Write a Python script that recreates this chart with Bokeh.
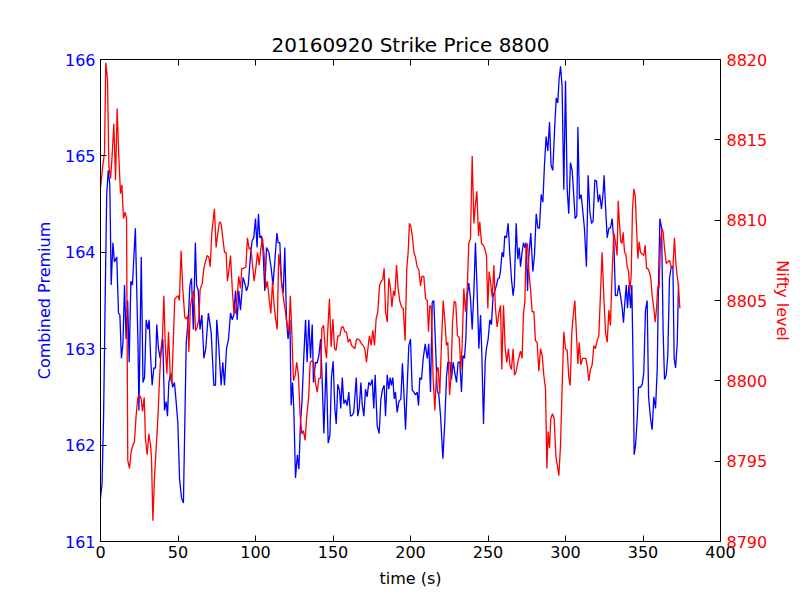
from bokeh.plotting import figure
from bokeh.models import Range1d, LinearAxis, FixedTicker
from bokeh.embed import file_html
from bokeh.resources import INLINE

title_text = "20160920 Strike Price 8800"
x_label = "time (s)"
left_label = "Combined Premium"
right_label = "Nifty level"

x_ticks = [0, 50, 100, 150, 200, 250, 300, 350, 400]
left_ticks = [161, 162, 163, 164, 165, 166]
right_ticks = [8790, 8795, 8800, 8805, 8810, 8815, 8820]

# Combined premium (left axis)
blue_t = [0, 1, 2, 3, 4, 5, 6, 6.9, 8, 9, 10.5, 11.6, 12.5, 13.5, 14.5, 15.5, 16.5, 17.5, 18.5, 19.6,
          20.6, 22.5, 24.2, 24.8, 26.3, 27.4, 28.4, 29.5, 30.6, 31.4, 32.3, 33.3, 34.4, 35.5, 36.3, 37.4,
          38.5, 40.2, 41.3, 42.4, 43.2, 44.1, 45.4, 46.5, 47.7, 48.8, 49.9, 51, 52.3, 53.5, 54.4, 55.3,
          56.6, 57.7, 58.7, 59.9, 61.2, 62, 63.1, 64.2, 65.4, 66.7, 67.9, 69.6, 71.4, 73.1, 74.2, 75,
          76.3, 77.8, 78.9, 80, 81.3, 82.6, 83.9, 85, 86, 87.1, 88.2, 89.2, 90.3, 92, 93.1, 94.2, 95.3,
          96.8, 97.8, 98.9, 100, 101, 101.9, 102.8, 103.9, 104.9, 106, 107.1, 108.6, 110, 111.3, 112.9,
          113.8, 114.6, 115.7, 116.8, 117.9, 118.9, 120, 121, 122.2, 123, 123.9, 124.7, 125.8, 127, 128,
          129, 130, 131.2, 132.3, 133.3, 134.4, 135.5, 136.6, 137.4, 138.7, 139.8, 140.9, 142, 143, 144.1,
          145.6, 146.9, 148, 149, 150.1, 151.2, 152.1, 153.1, 154.2, 155, 156, 157, 158.1, 159.1, 160.2,
          161.3, 162.4, 163.4, 165, 166, 166.9, 168, 168.8, 169.9, 171, 172, 173.1, 174.2, 175.3, 176.3,
          177.2, 178.5, 179.8, 180.9, 182, 183, 183.9, 185, 186, 186.9, 187.7, 188.6, 189.5, 190.3, 191.4,
          192.5, 193.8, 194.8, 195.7, 196.8, 197.8, 198.9, 200, 201.1, 202.2, 203.2, 204.3, 205.2, 206,
          207.1, 208.2, 209.5, 210.8, 211.8, 212.9, 214, 215, 216.1, 217.2, 218.3, 219.4, 220.9, 222.1,
          223.2, 224.1, 225.4, 226.4, 227.5, 228.6, 229.7, 230.7, 231.8, 232.9, 233.8, 234.8, 235.7, 236.6,
          237.6, 238.7, 239.8, 240.9, 241.9, 243, 244.1, 245.2, 246, 247.1, 248.2, 249, 250.1, 251.2, 252.2,
          253.3, 254.4, 255.5, 256.3, 257.2, 258, 259.1, 260, 260.8, 261.9, 263, 264, 265.1, 266.2, 267,
          268.2, 269.2, 270.1, 271, 272, 272.9, 273.8, 274.6, 275.5, 276.3, 277.6, 278.9, 280, 281.1, 282.2,
          283.2, 284.3, 285.4, 286.4, 287.5, 288.6, 289.7, 290.7, 291.8, 292.9, 294, 295, 295.9, 296.8,
          297.8, 298.9, 300, 301.1, 302.1, 303.2, 304.3, 305.1, 306.2, 307.3, 308, 309, 310.1, 311.2, 312.2,
          313.5, 314.6, 315.7, 316.8, 317.8, 318.9, 320, 321.1, 322.1, 323.2, 324.3, 324.9, 325.8, 326.9,
          328, 329, 330.1, 331.2, 332.2, 333.3, 334.4, 335.5, 336.6, 337.4, 338.3, 339.2, 340, 340.9, 342,
          342.8, 343.7, 344.3, 345.2, 346.3, 347.1, 348.4, 349.5, 350.5, 351.6, 352.7, 353.6, 354.9, 355.9,
          357, 358.1, 359.2, 360, 360.9, 362, 363, 363.9, 365, 366, 367.1, 368.2, 369.3, 370.1, 371, 372.1,
          372.9]
blue_v = [161.45, 161.6, 162.3, 163.5, 164.6, 164.85, 164.7, 163.66, 164.1, 163.9, 163.95, 163.37, 163.35,
          162.9, 163.06, 163.66, 163.1, 163.5, 162.86, 163.7, 163.66, 164.25, 163.03, 162.36, 163.95, 162.65,
          162.7, 163.3, 163.2, 163.3, 162.93, 162.62, 162.8, 162.8, 163.25, 163.0, 162.9, 163.1, 162.36,
          162.45, 162.3, 162.65, 162.75, 162.6, 162.65, 162.45, 162.23, 161.65, 161.45, 161.4, 162.23, 163.06,
          163.3, 163.66, 163.73, 163.2, 164.1, 163.66, 163.6, 163.2, 163.35, 162.9, 163.0, 163.37, 163.17,
          162.62, 162.62, 163.3, 163.03, 162.62, 162.86, 162.62, 163.0, 163.1, 163.37, 163.3, 163.35, 163.6,
          163.3, 163.6, 163.4, 163.74, 163.68, 163.6, 163.66, 163.97, 164.12, 164.15, 164.35, 164.05, 164.4,
          164.15, 164.17, 164.0, 163.6, 164.05, 164.0, 163.85, 163.66, 164.0, 164.2, 164.1, 164.1, 163.68,
          163.58, 164.05, 163.3, 163.1, 163.3, 162.41, 162.65, 162.38, 161.66, 161.9, 161.75, 162.23, 162.45,
          162.93, 163.3, 162.86, 163.3, 162.9, 163.25, 162.65, 162.86, 162.85, 162.93, 163.1, 162.68, 162.12,
          162.86, 162.02, 162.1, 162.7, 162.87, 162.38, 162.22, 162.63, 162.57, 162.38, 162.7, 162.43, 162.47,
          162.41, 162.55, 162.3, 162.31, 162.34, 162.7, 162.3, 162.38, 162.65, 162.43, 162.3, 162.58, 162.5,
          162.65, 162.62, 162.68, 162.38, 162.73, 162.2, 162.12, 162.48, 162.58, 162.62, 162.3, 162.73,
          162.58, 162.7, 162.62, 162.7, 162.48, 162.55, 162.34, 162.45, 162.48, 162.85, 162.55, 162.16,
          162.58, 163.03, 163.1, 162.57, 162.55, 162.52, 162.55, 162.41, 162.7, 162.68, 162.9, 163.05, 162.9,
          163.05, 162.55, 163.48, 163.5, 163.06, 162.57, 162.52, 162.3, 161.86, 162.23, 162.7, 162.86, 162.86,
          162.68, 162.86, 162.75, 162.65, 162.86, 162.86, 162.55, 162.93, 162.9, 163.1, 163.55, 163.68,
          163.52, 163.2, 163.6, 164.1, 163.6, 163.0, 163.35, 162.96, 162.22, 162.87, 163.0, 163.1, 163.3,
          163.25, 163.55, 163.6, 163.66, 163.72, 163.73, 163.8, 164.0, 163.95, 164.17, 164.15, 164.3, 164.0,
          163.73, 163.55, 163.66, 164.3, 163.93, 164.05, 163.85, 164.0, 164.1, 164.05, 164.1, 163.6, 163.95,
          164.2, 163.8, 163.97, 164.4, 164.25, 164.25, 164.6, 164.52, 164.9, 165.2, 165.05, 165.35, 164.9,
          164.85, 165.25, 165.6, 165.55, 165.8, 165.93, 165.72, 164.65, 165.78, 164.65, 164.4, 164.93, 164.85,
          164.65, 164.35, 164.38, 165.3, 164.55, 164.6, 164.42, 164.25, 163.85, 164.8, 164.42, 164.3, 164.32,
          164.75, 164.74, 164.52, 164.6, 164.45, 164.62, 164.8, 164.48, 164.15, 164.25, 164.25, 164.35, 164.1,
          163.55, 163.55, 163.66, 163.55, 163.42, 163.27, 163.48, 163.66, 163.42, 163.66, 163.42, 163.66,
          162.73, 161.9, 162.0, 162.28, 162.6, 162.6, 162.63, 162.75, 163.4, 163.5, 162.5, 162.27, 162.16,
          162.5, 162.38, 162.8, 163.68, 164.35, 164.25, 163.17, 162.68, 162.73, 162.93, 163.73, 163.85,
          163.85, 162.9, 162.8, 163.06, 163.68]

# Nifty level (right axis)
red_t = [0, 1.5, 2.6, 3.4, 4.5, 5.4, 6.5, 7.5, 8.6, 9.7, 10.75, 11.8, 12.9, 13.8, 14.8, 15.9, 16.8, 17.6,
         18.7, 19.8, 20.9, 21.9, 23, 24.1, 25.2, 26.2, 27.1, 28.2, 29, 30.1, 31.2, 32.3, 32.9, 33.8, 34.8,
         35.9, 37, 38.1, 39.1, 40, 40.9, 41.7, 42.8, 43.9, 45, 46, 47.1, 47.9, 49, 50.1, 50.9, 52, 53.1, 54.4,
         55.3, 56.3, 57, 58, 59.1, 60.2, 61.3, 62.4, 63.4, 64.3, 65.6, 66.7, 67.7, 68.8, 69.9, 70.8, 71.8,
         72.7, 73.5, 74.6, 75.7, 76.8, 77.8, 78.9, 80, 81, 81.9, 83, 83.9, 85, 86, 87.1, 88.2, 89.2, 90.3,
         91.2, 92.5, 93.8, 94.8, 95.9, 97, 98, 99.1, 100.2, 101.3, 102.4, 103.4, 104.5, 105.6, 106.7, 107.7,
         108.8, 109.9, 111, 111.8, 112.9, 114, 115, 116.1, 117.2, 118.3, 119.3, 120.4, 121.5, 122.5, 123.4,
         124.5, 125.6, 126.6, 127.7, 128.8, 129.9, 130.9, 132, 133.1, 134.3, 135.3, 136.3, 137.4, 138.7,
         139.8, 140.9, 142, 142.8, 143.9, 145, 145.8, 146.7, 147.7, 148.8, 149.9, 151, 152, 153.1, 154.4,
         155.5, 156.6, 157.6, 158.7, 159.8, 160.9, 162, 163, 164.1, 165.2, 166.2, 167.3, 168.4, 169.5, 170.5,
         171.6, 172.5, 173.5, 174.6, 175.7, 176.8, 177.8, 178.9, 180, 181.1, 182.1, 183, 183.9, 185, 186,
         187.1, 188, 189, 189.9, 191, 192, 193.1, 194.2, 195.3, 196.5, 197.6, 198.5, 199.3, 200.2, 201.2,
         202.2, 203.2, 204.3, 205.4, 206.5, 207.3, 208.6, 209.7, 210.8, 211.6, 212.5, 213.5, 214.6, 215.7,
         216.8, 217.8, 218.9, 220, 221.1, 222.1, 223.2, 224.1, 225.2, 226.2, 227.1, 228.2, 229.2, 230.3,
         231.4, 232.5, 233.3, 234.4, 235.5, 236.6, 237.6, 238.7, 239.8, 240.9, 241.9, 242.8, 243.9, 244.7,
         245.8, 246.9, 247.7, 249, 249.9, 250.7, 251.6, 252.7, 253.8, 254.8, 255.9, 257, 258.1, 258.9, 260,
         261.1, 262.1, 263.2, 264.1, 265.1, 266.2, 267.1, 268.2, 269.2, 270.3, 271, 272, 272.9, 273.8, 274.6,
         275.5, 276.3, 277.4, 278.5, 279.6, 280.6, 281.7, 282.8, 283.9, 285, 286, 287.1, 288, 288.8, 289.7,
         290.5, 291.6, 292.7, 293.8, 294.8, 295.7, 296.8, 297.8, 298.9, 300, 301.1, 302.1, 303, 304.1, 305.2,
         306, 306.9, 308, 308.8, 309.9, 311, 312, 313.1, 314.2, 315, 316.1, 317.2, 318.3, 319.3, 320.4, 321.5,
         322.6, 323.6, 324.7, 325.8, 326.9, 328, 329, 330.1, 331.2, 332.2, 333.3, 334, 334.8, 335.7, 336.4,
         337.2, 338.1, 338.9, 339.8, 340.7, 341.5, 342.4, 343.2, 344.1, 345, 345.8, 346.7, 347.5, 348.4,
         349.5, 350.5, 351.4, 352.3, 353.1, 354, 355, 355.9, 357, 357.9, 358.7, 359.6, 360.4, 361.3, 362.2,
         363, 363.9, 365, 366, 367.1, 368.2, 369.3, 370.3, 371.2, 372.1, 372.9, 373.8]
red_v = [8812.0, 8813.4, 8814.2, 8819.8, 8818.8, 8813.4, 8812.6, 8814.0, 8816.0, 8812.5, 8816.95, 8814.0,
         8811.65, 8812.2, 8810.1, 8810.5, 8810.1, 8795.05, 8794.55, 8795.6, 8796.0, 8796.2, 8797.85, 8798.97,
         8799.1, 8798.9, 8798.1, 8798.97, 8796.4, 8795.4, 8796.7, 8796.0, 8795.2, 8791.3, 8793.9, 8795.8,
         8797.6, 8800.15, 8802.0, 8802.8, 8805.3, 8802.4, 8800.45, 8803.05, 8800.25, 8799.85, 8802.8, 8805.1,
         8805.2, 8805.3, 8805.0, 8808.1, 8805.7, 8803.95, 8803.85, 8804.05, 8801.8, 8804.7, 8805.2, 8805.6,
         8803.1, 8803.35, 8803.8, 8805.7, 8806.05, 8807.0, 8807.4, 8807.8, 8807.7, 8807.1, 8809.2, 8810.0,
         8810.7, 8808.3, 8809.2, 8809.9, 8809.8, 8808.9, 8808.0, 8808.0, 8806.2, 8807.0, 8807.8, 8805.75,
         8804.3, 8804.2, 8805.3, 8806.5, 8805.75, 8807.0, 8807.0, 8807.1, 8808.9, 8808.2, 8808.3, 8807.3,
         8806.2, 8807.0, 8808.0, 8807.2, 8808.2, 8808.9, 8807.8, 8805.75, 8806.2, 8805.1, 8804.2, 8806.2,
         8804.95, 8803.9, 8803.2, 8807.9, 8807.0, 8805.75, 8804.95, 8804.3, 8803.5, 8803.0, 8805.3, 8803.1,
         8800.0, 8800.35, 8801.15, 8800.35, 8797.85, 8796.7, 8796.9, 8796.3, 8797.85, 8799.0, 8801.15,
         8801.25, 8801.15, 8799.85, 8799.3, 8800.15, 8800.15, 8803.25, 8803.45, 8802.0, 8801.4, 8803.25,
         8805.1, 8802.1, 8803.85, 8802.0, 8801.9, 8802.8, 8802.8, 8803.35, 8803.35, 8803.05, 8803.05, 8802.4,
         8802.6, 8802.2, 8802.1, 8802.0, 8802.6, 8802.6, 8802.5, 8802.3, 8802.2, 8802.0, 8801.15, 8802.0,
         8802.8, 8802.2, 8803.15, 8802.2, 8803.85, 8804.3, 8805.9, 8806.2, 8806.3, 8807.0, 8804.3, 8803.65,
         8806.4, 8805.75, 8804.6, 8805.6, 8805.3, 8807.2, 8805.75, 8804.95, 8804.6, 8804.5, 8802.5, 8807.0,
         8808.0, 8809.8, 8809.6, 8809.0, 8808.0, 8807.7, 8807.1, 8806.9, 8805.9, 8806.5, 8806.5, 8805.1,
         8805.0, 8803.05, 8804.7, 8804.5, 8800.15, 8798.15, 8800.55, 8800.85, 8799.2, 8802.4, 8805.0, 8803.85,
         8802.2, 8802.4, 8799.1, 8800.35, 8803.65, 8804.95, 8804.85, 8802.8, 8802.7, 8800.7, 8802.2, 8805.75,
         8804.3, 8805.75, 8808.55, 8808.85, 8814.0, 8809.8, 8811.0, 8811.8, 8809.0, 8809.9, 8808.55, 8808.45,
         8808.3, 8807.8, 8804.5, 8806.8, 8806.2, 8805.2, 8807.2, 8804.5, 8803.35, 8804.2, 8804.7, 8800.7,
         8804.7, 8802.0, 8801.15, 8802.0, 8801.0, 8800.7, 8802.0, 8800.35, 8800.6, 8801.15, 8801.6, 8801.85,
         8801.4, 8804.2, 8804.95, 8808.3, 8808.55, 8806.9, 8805.75, 8804.3, 8804.3, 8802.5, 8802.4, 8800.6,
         8802.0, 8801.55, 8800.35, 8799.5, 8794.55, 8796.85, 8795.8, 8797.65, 8797.95, 8797.65, 8795.3,
         8794.7, 8794.1, 8796.0, 8799.5, 8803.05, 8802.0, 8801.9, 8800.25, 8799.7, 8803.05, 8804.3, 8805.0,
         8803.25, 8801.05, 8802.4, 8801.0, 8801.4, 8801.4, 8801.4, 8800.8, 8800.0, 8800.7, 8801.0, 8802.2,
         8802.0, 8802.5, 8802.8, 8805.5, 8808.0, 8805.3, 8803.05, 8802.4, 8804.4, 8803.45, 8806.8, 8809.2,
         8808.65, 8807.8, 8811.2, 8809.8, 8808.65, 8808.55, 8809.25, 8808.0, 8807.9, 8807.1, 8806.8, 8805.6,
         8806.6, 8810.6, 8811.95, 8811.5, 8809.6, 8807.6, 8808.65, 8808.0, 8807.9, 8807.8, 8808.45, 8807.0,
         8807.0, 8806.8, 8806.4, 8805.3, 8804.5, 8803.65, 8804.5, 8805.9, 8805.75, 8808.65, 8809.5, 8809.25,
         8808.2, 8807.3, 8807.4, 8807.5, 8807.1, 8807.0, 8808.9, 8807.3, 8806.5, 8805.9, 8804.5]

BLUE = "#0000ff"
RED = "#ff0000"
FONT = "DejaVu Sans"

p = figure(frame_width=620, frame_height=482, output_backend="svg", toolbar_location=None,
           x_range=Range1d(0, 400), y_range=Range1d(161, 166),
           min_border_left=100, min_border_right=80, min_border_top=59, min_border_bottom=59,
           title=title_text)
p.title.align = "center"
p.title.text_font = FONT
p.title.text_font_size = "20px"
p.title.text_font_style = "normal"
p.title.text_color = "black"
p.title.standoff = 5
p.grid.visible = False
p.outline_line_color = "black"
p.outline_line_width = 1
p.background_fill_color = "white"
p.border_fill_color = "white"

p.extra_y_ranges = {"nifty": Range1d(8790, 8820)}

def style(ax, color):
    ax.major_tick_in = 6
    ax.major_tick_out = 0
    ax.minor_tick_line_color = None
    ax.major_tick_line_color = "black"
    ax.axis_line_color = "black"
    ax.major_label_text_font = FONT
    ax.major_label_text_font_size = "16px"
    ax.major_label_text_color = color
    ax.axis_label_text_font = FONT
    ax.axis_label_text_font_size = "16px"
    ax.axis_label_text_font_style = "normal"
    ax.axis_label_text_color = color

xa = p.xaxis[0]
xa.ticker = FixedTicker(ticks=x_ticks)
xa.axis_label = x_label
style(xa, "black")
xa.major_label_standoff = 4
xa.axis_label_standoff = 8

ya = p.yaxis[0]
ya.ticker = FixedTicker(ticks=left_ticks)
ya.axis_label = left_label
style(ya, BLUE)
ya.major_label_standoff = 5
ya.axis_label_standoff = 8

ra = LinearAxis(y_range_name="nifty", axis_label=right_label)
ra.ticker = FixedTicker(ticks=right_ticks)
style(ra, RED)
ra.major_label_standoff = 6
ra.axis_label_standoff = 3
p.add_layout(ra, "right")

ta = LinearAxis()
ta.ticker = FixedTicker(ticks=x_ticks)
style(ta, "black")
ta.major_label_text_color = None
ta.major_label_standoff = 0
p.add_layout(ta, "above")

p.line(blue_t, blue_v, line_color=BLUE, line_width=1.3)
p.line(red_t, red_v, line_color=RED, line_width=1.3, y_range_name="nifty")

open("out.html", "w").write(file_html(p, INLINE))
